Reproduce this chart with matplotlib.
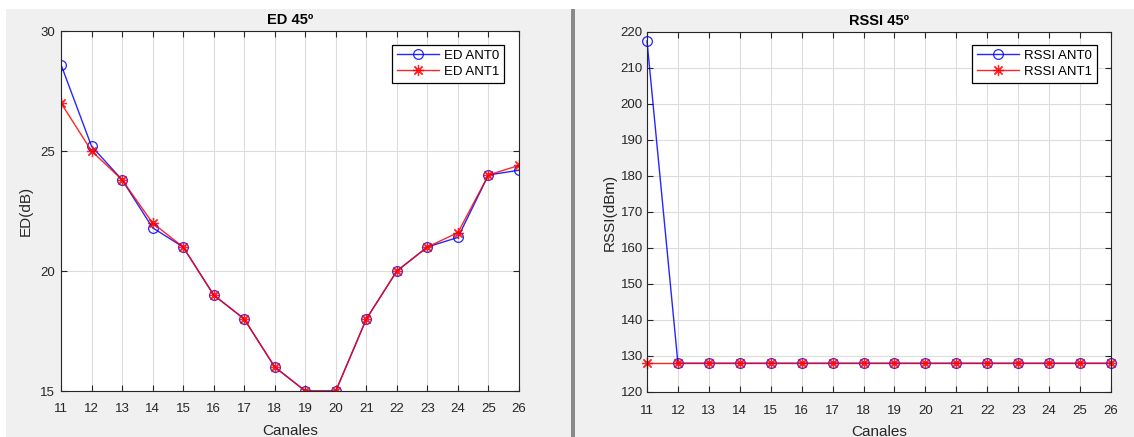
import matplotlib
matplotlib.use("Agg")
import matplotlib.pyplot as plt
from matplotlib.patches import Rectangle

plt.rcParams['font.family'] = ['Liberation Sans', 'DejaVu Sans']

canales = list(range(11, 27))
ed_ant0 = [28.6, 25.2, 23.8, 21.8, 21.0, 19.0, 18.0, 16.0, 15.0, 15.0, 18.0, 20.0, 21.0, 21.4, 24.0, 24.2]
ed_ant1 = [27.0, 25.0, 23.8, 22.0, 21.0, 19.0, 18.0, 16.0, 15.0, 15.0, 18.0, 20.0, 21.0, 21.6, 24.0, 24.4]
rssi_ant0 = [217.5] + [128] * 15
rssi_ant1 = [128] * 16

ed_yticks = [15, 20, 25, 30]
rssi_yticks = list(range(120, 221, 10))

W, H = 1134, 437
fig = plt.figure(figsize=(W / 100, H / 100), dpi=100)
fig.patch.set_facecolor('white')

def px(x0, y0, w, h):
    return (x0 / W, 1 - (y0 + h) / H, w / W, h / H)

# background panels
for (x0, x1, c) in [(6, 571, '#f0f0f0'), (571, 575, '#8a8a8a'), (575, W, '#f0f0f0')]:
    fig.patches.append(Rectangle((x0 / W, 0), (x1 - x0) / W, 1 - 9 / H, transform=fig.transFigure,
                                 facecolor=c, edgecolor='none', zorder=-10))

ast = (8, 2, 0)
tc = '#262626'

def style_axes(ax, yticks, ylim, ypad):
    ax.set_facecolor('white')
    ax.set_xlim(11, 26)
    ax.set_ylim(*ylim)
    ax.set_xticks(canales)
    ax.set_yticks(yticks)
    ax.grid(True, color='#dcdcdc', linewidth=0.8)
    ax.set_axisbelow(True)
    ax.tick_params(direction='in', length=4, width=0.8, top=True, right=True,
                   labelsize=9.5, colors=tc)
    ax.tick_params(axis='x', pad=9)
    ax.tick_params(axis='y', pad=ypad)
    for s in ax.spines.values():
        s.set_color('#262626')
        s.set_linewidth(0.8)

def make_legend(ax, xr):
    leg = ax.legend(loc='upper right', bbox_to_anchor=(xr / W, 1 - 45 / H),
                    bbox_transform=fig.transFigure, borderaxespad=0, fontsize=9.5,
                    fancybox=False, edgecolor='black', framealpha=1, handlelength=3.2,
                    handletextpad=0.4, borderpad=0.35, labelspacing=0.3)
    leg.get_frame().set_linewidth(0.9)

# Left
ax1 = fig.add_axes(px(61, 31, 458, 360))
ax1.plot(canales, ed_ant0, color='blue', marker='o', markersize=7, markerfacecolor='none',
         markeredgewidth=0.9, linewidth=1.0, label='ED ANT0', alpha=0.85)
ax1.plot(canales, ed_ant1, color='red', marker=ast, markersize=8, markeredgewidth=0.9,
         linewidth=1.0, label='ED ANT1', alpha=0.85)
style_axes(ax1, ed_yticks, (15, 30), 4.5)
ax1.set_title('ED 45º', fontsize=10.5, fontweight='bold', color='black', pad=5)
ax1.set_xlabel('Canales', fontsize=11, color=tc, labelpad=6)
ax1.set_ylabel('ED(dB)', fontsize=11, color=tc, labelpad=5)
make_legend(ax1, 504)

# Right
ax2 = fig.add_axes(px(647, 32, 464, 360))
ax2.plot(canales, rssi_ant0, color='blue', marker='o', markersize=7, markerfacecolor='none',
         markeredgewidth=0.9, linewidth=1.0, label='RSSI ANT0', alpha=0.85, clip_on=False)
ax2.plot(canales, rssi_ant1, color='red', marker=ast, markersize=8, markeredgewidth=0.9,
         linewidth=1.0, label='RSSI ANT1', alpha=0.85, clip_on=False)
style_axes(ax2, rssi_yticks, (120, 220), 3)
ax2.set_title('RSSI 45º', fontsize=10.5, fontweight='bold', color='black', pad=5)
ax2.set_xlabel('Canales', fontsize=11, color=tc, labelpad=6)
ax2.set_ylabel('RSSI(dBm)', fontsize=11, color=tc, labelpad=3)
make_legend(ax2, 1097)

fig.savefig('out.png', dpi=100, facecolor=fig.get_facecolor())
